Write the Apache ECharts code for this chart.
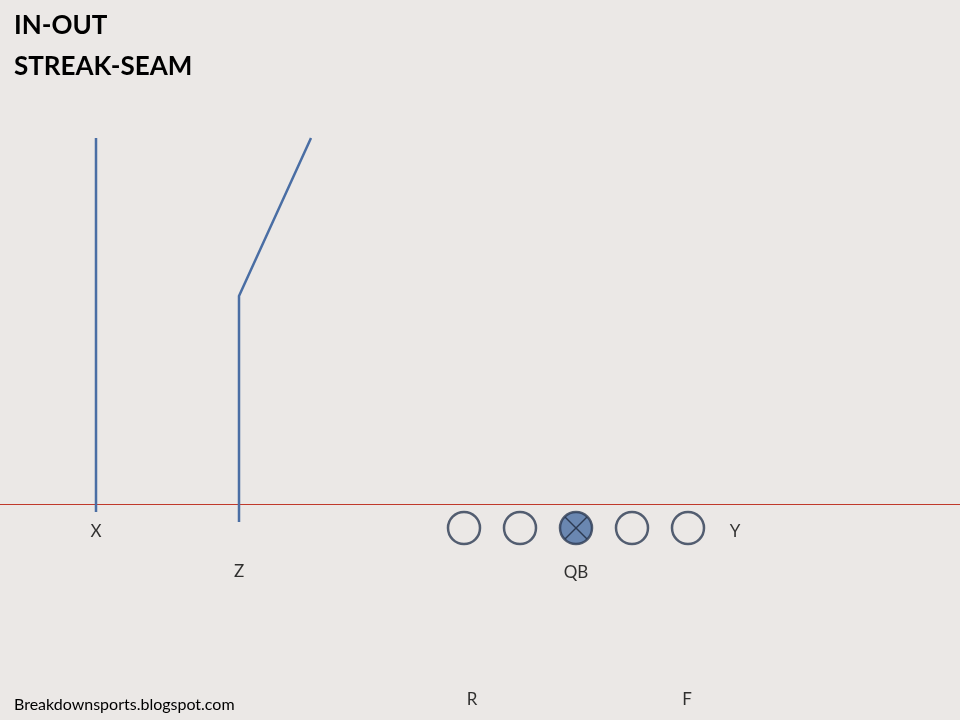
<!DOCTYPE html>
<html>
<head>
<meta charset="utf-8">
<script src="https://cdn.jsdelivr.net/npm/echarts@6/dist/echarts.min.js"></script>
<style>html,body{margin:0;background:#ebe8e6}#chart{width:960px;height:720px}</style>
</head>
<body>
<div id="chart"></div>
<script>
// field positions (x across, y down the page)
var lineOfScrimmage = 504;
var linemenX = [464, 520, 632, 688];
var linemenY = 528;
var qb = [576, 528];
var routeX = [[96, 512], [96, 138]];
var routeZ = [[239, 522], [239, 296], [311, 138]];
var labels = [
    {name: 'X', pos: [96, 532]},
    {name: 'Z', pos: [239, 572]},
    {name: 'QB', pos: [576, 573]},
    {name: 'Y', pos: [735, 532]},
    {name: 'R', pos: [472, 700]},
    {name: 'F', pos: [687, 700]}
];
var titles = ['IN-OUT', 'STREAK-SEAM'];

var font = 'Lato, "Open Sans", sans-serif';
var blue = '#4a6ea4';
var dark = '#2c3a52';

var myChart = echarts.init(document.getElementById('chart'));

var xr = 11;
var option = {
    backgroundColor: '#ebe8e6',
    animation: false,
    title: [
        {text: titles[0], left: 9, top: 8, textStyle: {fontFamily: font, fontSize: 26, fontWeight: 'bold', color: '#000'}},
        {text: titles[1], left: 9, top: 49, textStyle: {fontFamily: font, fontSize: 26, fontWeight: 'bold', color: '#000'}},
        {text: 'Breakdownsports.blogspot.com', left: 9, top: 692, textStyle: {fontFamily: font, fontSize: 16, fontWeight: 'normal', color: '#000'}}
    ],
    grid: {left: 0, right: 0, top: 0, bottom: 0},
    xAxis: {type: 'value', min: 0, max: 960, show: false},
    yAxis: {type: 'value', min: 0, max: 720, inverse: true, show: false},
    series: [
        {
            type: 'lines', coordinateSystem: 'cartesian2d', polyline: false,
            lineStyle: {color: '#c0392b', width: 1, opacity: 1},
            data: [{coords: [[0, lineOfScrimmage], [960, lineOfScrimmage]]}]
        },
        {
            type: 'lines', coordinateSystem: 'cartesian2d', polyline: true,
            symbol: ['none', 'arrow'], symbolSize: 11,
            lineStyle: {color: blue, width: 2.5, opacity: 1},
            data: [{coords: routeX}, {coords: routeZ}]
        },
        {
            type: 'scatter', symbol: 'circle', symbolSize: 32, z: 3,
            itemStyle: {color: 'rgba(0,0,0,0)', borderColor: dark, borderWidth: 2.5},
            data: linemenX.map(function (x) { return [x, linemenY]; })
        },
        {
            type: 'scatter', symbol: 'circle', symbolSize: 32, z: 3,
            itemStyle: {color: blue, borderColor: dark, borderWidth: 2.5},
            data: [qb]
        },
        {
            type: 'lines', coordinateSystem: 'cartesian2d', z: 4,
            lineStyle: {color: dark, width: 1.5, opacity: 1},
            data: [
                {coords: [[qb[0] - xr, qb[1] - xr], [qb[0] + xr, qb[1] + xr]]},
                {coords: [[qb[0] + xr, qb[1] - xr], [qb[0] - xr, qb[1] + xr]]}
            ]
        },
        {
            type: 'scatter', symbolSize: 0,
            label: {show: true, position: 'inside', formatter: '{b}', fontFamily: font, fontSize: 17, color: '#000'},
            data: labels.map(function (l) { return {name: l.name, value: l.pos}; })
        }
    ]
};
myChart.setOption(option);
</script>
</body>
</html>
